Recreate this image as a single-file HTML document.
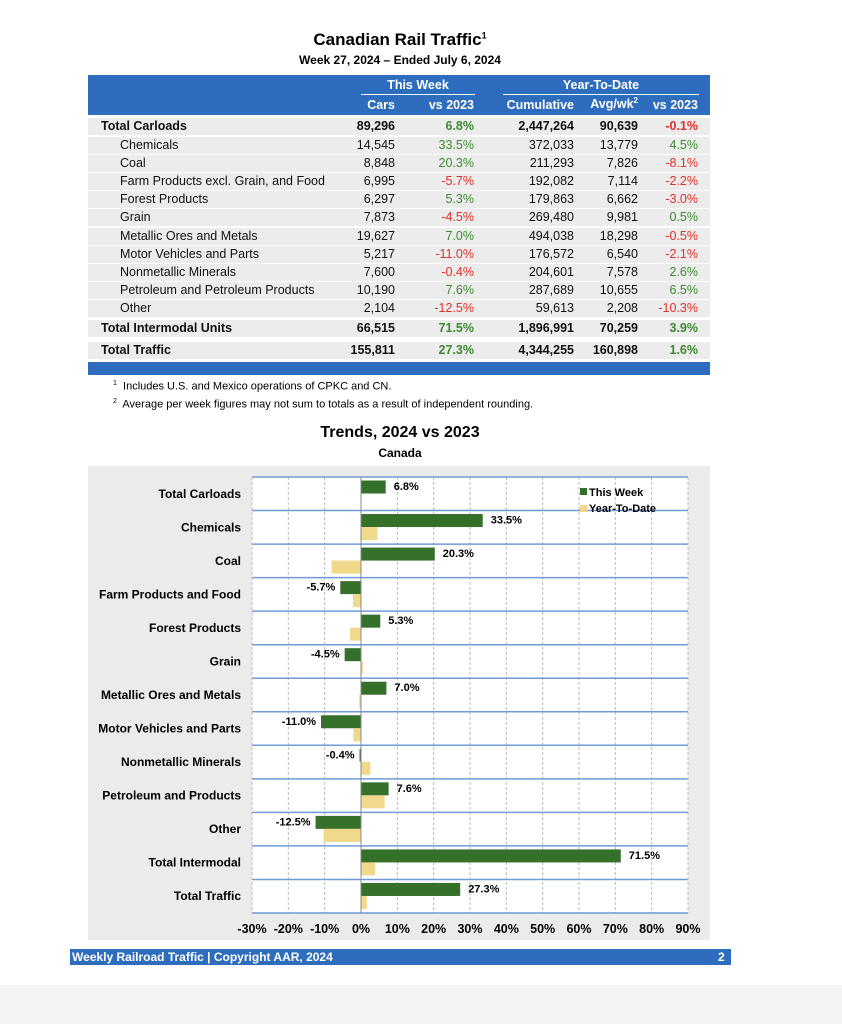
<!DOCTYPE html>
<html><head><meta charset="utf-8">
<style>
body{margin:0;background:#fff;font-family:"Liberation Sans",sans-serif;}
#page{position:relative;width:842px;height:1024px;overflow:hidden;background:#fff}
.a{position:absolute;white-space:nowrap}
.b{font-weight:bold}
.tc{font-size:12.5px;color:#111}
.tc.g{color:#3d8a2f}.tc.r{color:#e0302a}
</style></head>
<body>
<div id="page">
<div class="a b" style="left:0;width:800px;text-align:center;top:30px;font-size:17px">Canadian Rail Traffic<sup style="font-size:9px">1</sup></div>
<div class="a b" style="left:0;width:800px;text-align:center;top:53px;font-size:12px">Week 27, 2024 – Ended July 6, 2024</div>

<div class="a" style="left:88px;top:75px;width:622px;height:40px;background:#2e6dbd"></div>
<div class="a b" style="left:361px;width:114px;top:78px;text-align:center;color:#fff;font-size:12.5px">This Week</div>
<div class="a" style="left:361px;width:114px;top:94px;height:1px;background:#fff"></div>
<div class="a b" style="left:503px;width:196px;top:78px;text-align:center;color:#fff;font-size:12.5px">Year-To-Date</div>
<div class="a" style="left:503px;width:196px;top:94px;height:1px;background:#fff"></div>
<div class="a b" style="right:447px;top:98px;color:#fff;font-size:12.5px">Cars</div>
<div class="a b" style="right:368px;top:98px;color:#fff;font-size:12.5px">vs 2023</div>
<div class="a b" style="right:268px;top:98px;color:#fff;font-size:12.5px">Cumulative</div>
<div class="a b" style="right:204px;top:96px;color:#fff;font-size:12.5px">Avg/wk<sup style="font-size:8px">2</sup></div>
<div class="a b" style="right:144px;top:98px;color:#fff;font-size:12.5px">vs 2023</div>
<div id="tbl"></div>
<div class="a" style="left:88px;top:362px;width:622px;height:13px;background:#2e6dbd"></div>
<div class="a" style="left:113px;top:380px;font-size:11px"><sup style="font-size:7px">1</sup>&nbsp; Includes U.S. and Mexico operations of CPKC and CN.</div>
<div class="a" style="left:113px;top:398px;font-size:11px"><sup style="font-size:7px">2</sup>&nbsp; Average per week figures may not sum to totals as a result of independent rounding.</div>

<div class="a b" style="left:0;width:800px;text-align:center;top:424px;font-size:16px">Trends, 2024 vs 2023</div>
<div class="a b" style="left:0;width:800px;text-align:center;top:446px;font-size:12px">Canada</div>
<div class="a" style="left:88px;top:466px;width:622px;height:474px;background:#ebebeb"></div>
<svg class="a" style="left:0;top:0" width="842" height="1024" id="chart"></svg>

<div class="a" style="left:70px;top:949px;width:661px;height:16px;background:#2e6dbd"></div>
<div class="a b" style="left:72px;top:950px;color:#fff;font-size:12px">Weekly Railroad Traffic | Copyright AAR, 2024</div>
<div class="a b" style="left:718px;top:950px;color:#fff;font-size:12px">2</div>
<div class="a" style="left:0;top:985px;width:842px;height:39px;background:#f4f4f4"></div>
</div>
<script>
const rows=[
["Total Carloads","89,296","6.8%","2,447,264","90,639","-0.1%",1],
["Chemicals","14,545","33.5%","372,033","13,779","4.5%",0],
["Coal","8,848","20.3%","211,293","7,826","-8.1%",0],
["Farm Products excl. Grain, and Food","6,995","-5.7%","192,082","7,114","-2.2%",0],
["Forest Products","6,297","5.3%","179,863","6,662","-3.0%",0],
["Grain","7,873","-4.5%","269,480","9,981","0.5%",0],
["Metallic Ores and Metals","19,627","7.0%","494,038","18,298","-0.5%",0],
["Motor Vehicles and Parts","5,217","-11.0%","176,572","6,540","-2.1%",0],
["Nonmetallic Minerals","7,600","-0.4%","204,601","7,578","2.6%",0],
["Petroleum and Petroleum Products","10,190","7.6%","287,689","10,655","6.5%",0],
["Other","2,104","-12.5%","59,613","2,208","-10.3%",0],
["Total Intermodal Units","66,515","71.5%","1,896,991","70,259","3.9%",1],
["Total Traffic","155,811","27.3%","4,344,255","160,898","1.6%",1]];
const rowTops=[118,136.5,154.7,172.9,191.1,209.3,227.5,245.7,263.9,282.1,300.3,320,342];
const tbl=document.getElementById('tbl');
const rights=[447,368,268,204,144];
rows.forEach((r,i)=>{
 const y=rowTops[i];
 const bg=document.createElement('div');bg.className='a';
 bg.style.cssText=`left:88px;top:${y}px;width:622px;height:17px;background:#ececec`;
 
 
 tbl.appendChild(bg);
 const l=document.createElement('div');l.className='a tc'+(r[6]?' b':'');
 l.style.cssText=`left:${r[6]?101:120}px;top:${y+1}px`;l.textContent=r[0];
 
 
 tbl.appendChild(l);
 for(let c=1;c<=5;c++){
  const d=document.createElement('div');
  let cls='a tc'+(r[6]?' b':'');
  if(c==2||c==5)cls+=r[c][0]=='-'?' r':' g';
  d.className=cls;d.style.cssText=`right:${rights[c-1]}px;top:${y+1}px`;d.textContent=r[c];
  
  
  tbl.appendChild(d);
 }
});

const categories=["Total Carloads","Chemicals","Coal","Farm Products and Food","Forest Products","Grain","Metallic Ores and Metals","Motor Vehicles and Parts","Nonmetallic Minerals","Petroleum and Products","Other","Total Intermodal","Total Traffic"];
const thisWeek=[6.8,33.5,20.3,-5.7,5.3,-4.5,7.0,-11.0,-0.4,7.6,-12.5,71.5,27.3];
const ytd=[-0.1,4.5,-8.1,-2.2,-3.0,0.5,-0.5,-2.1,2.6,6.5,-10.3,3.9,1.6];
const ticks=[-30,-20,-10,0,10,20,30,40,50,60,70,80,90];
const NS='http://www.w3.org/2000/svg';
const svg=document.getElementById('chart');
const X0=252,X1=688,Y0=477,Y1=913;
const x=v=>X0+(v+30)/120*(X1-X0);
const rh=(Y1-Y0)/categories.length;
const y=i=>Y0+i*rh;
function mk(t,a){const e=document.createElementNS(NS,t);for(const k in a)e.setAttribute(k,a[k]);svg.appendChild(e);return e;}
const pa=mk('rect',{x:X0,y:Y0,width:X1-X0,height:Y1-Y0,fill:'#fff'});


ticks.forEach(t=>{
 if(t!==0&&t!==-30&&t!==90){const g=mk('line',{x1:x(t),x2:x(t),y1:Y0,y2:Y1,stroke:'#bbb','stroke-dasharray':'3,2'});
 
 }
 const tl=mk('text',{x:x(t),y:933,'text-anchor':'middle','font-size':12.5,'font-weight':'bold','font-family':'Liberation Sans'});
 tl.textContent=t+'%';
 
 
});
for(let i=0;i<=categories.length;i++){
 const h=mk('line',{x1:X0,x2:X1,y1:y(i),y2:y(i),stroke:'#6f9bd6','stroke-width':1.5});
 
 
}
[X0,X1].forEach(xx=>{const e=mk('line',{x1:xx,x2:xx,y1:Y0,y2:Y1,stroke:'#bbb','stroke-dasharray':'3,2'});
 
 });
categories.forEach((c,i)=>{
 const ty=y(i);
 const lab=mk('text',{x:241,y:ty+rh/2+4,'text-anchor':'end','font-size':12,'font-weight':'bold','font-family':'Liberation Sans'});
 lab.textContent=c;
 
 
 const v=thisWeek[i];
 const gb=mk('rect',{x:Math.min(x(0),x(v)),y:ty+3.5,width:Math.abs(x(v)-x(0)),height:13,fill:'#35702a'});
 
 
 const w=ytd[i];
 const yb=mk('rect',{x:Math.min(x(0),x(w)),y:ty+16.5,width:Math.abs(x(w)-x(0)),height:13,fill:'#f0d98a'});
 
 
 const vl=mk('text',{x:v>=0?x(v)+8:x(v)-5,y:ty+13,'text-anchor':v>=0?'start':'end','font-size':11,'font-weight':'bold','font-family':'Liberation Sans'});
 vl.textContent=v.toFixed(1)+'%';
 
 
});
const ax=mk('line',{x1:x(0),x2:x(0),y1:Y0,y2:Y1,stroke:'#888','stroke-width':1});


const l1=mk('rect',{x:580,y:488,width:7,height:7,fill:'#35702a'});


const t1=mk('text',{x:589,y:496,'font-size':11,'font-weight':'bold','font-family':'Liberation Sans'});t1.textContent='This Week';


const l2=mk('rect',{x:580,y:505,width:7,height:7,fill:'#f0d98a'});


const t2=mk('text',{x:589,y:512,'font-size':11,'font-weight':'bold','font-family':'Liberation Sans'});t2.textContent='Year-To-Date';


</script>
</body></html>
